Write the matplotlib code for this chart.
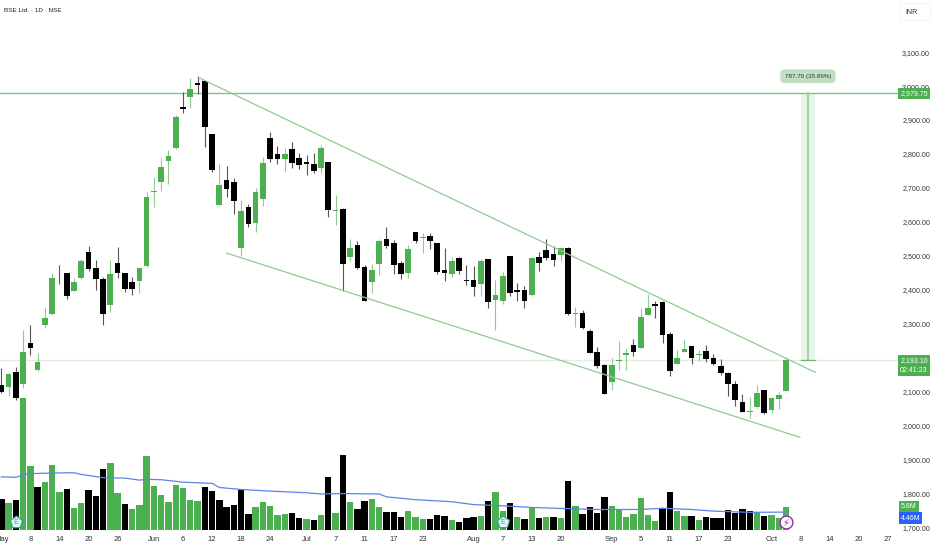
import matplotlib
matplotlib.use("Agg")
import numpy as np
import matplotlib.pyplot as plt

plt.rcParams['font.family'] = ['Liberation Sans', 'DejaVu Sans']

# Candles, one value per trading day
opens = [2119,2115,2157,2121,2242,2164,2296,2330,2450,2448,
         2397,2436,2510,2465,2433,2355,2478,2448,2423,2427,
         2471,2689,2717,2778,2818,2937,2968,3009,3014,2859,
         2651,2723,2717,2524,2645,2597,2668,2848,2799,2786,
         2815,2787,2776,2769,2758,2776,2633,2639,2496,2533,
         2466,2422,2476,2549,2539,2478,2448,2569,2552,2557,
         2537,2459,2447,2494,2428,2429,2418,2490,2369,2367,
         2498,2398,2398,2384,2497,2518,2504,2503,2523,2330,
         2333,2280,2217,2178,2127,2189,2209,2237,2227,2326,
         2357,2364,2270,2182,2217,2233,2208,2221,2198,2174,
         2156,2121,2068,2040,2054,2104,2046,2079,2103]
closes = [2100,2151,2081,2216,2229,2188,2316,2436,2448,2382,
          2424,2486,2461,2433,2330,2446,2448,2401,2402,2464,
          2672,2691,2762,2795,2908,2931,2992,3004,2880,2753,
          2710,2696,2662,2632,2593,2687,2774,2784,2786,2801,
          2774,2767,2771,2749,2819,2634,2635,2475,2523,2464,
          2368,2459,2545,2528,2473,2447,2520,2545,2554,2545,
          2452,2448,2486,2454,2425,2409,2486,2365,2386,2440,
          2391,2394,2368,2493,2479,2493,2489,2522,2330,2332,
          2286,2215,2175,2094,2178,2192,2213,2216,2319,2345,
          2351,2266,2162,2199,2225,2199,2210,2197,2180,2154,
          2121,2074,2041,2042,2095,2037,2080,2091,2193.1]
highs = [2169,2156,2173,2281,2296,2215,2348,2448,2473,2450,
         2436,2490,2529,2488,2439,2488,2525,2450,2437,2468,
         2689,2733,2787,2813,2915,2983,3023,3030,3016,2859,
         2770,2766,2728,2664,2654,2699,2792,2865,2823,2819,
         2836,2804,2797,2804,2826,2776,2679,2642,2549,2544,
         2473,2475,2551,2584,2546,2486,2532,2571,2566,2566,
         2539,2524,2497,2497,2473,2470,2492,2490,2429,2453,
         2500,2419,2411,2497,2512,2549,2530,2525,2525,2350,
         2340,2283,2230,2180,2198,2249,2227,2254,2345,2387,
         2366,2366,2276,2222,2254,2234,2224,2237,2211,2195,
         2158,2132,2093,2083,2119,2106,2083,2098,2201]
lows = [2095,2090,2075,2110,2208,2162,2288,2326,2417,2372,
        2397,2431,2456,2399,2296,2335,2434,2394,2384,2391,
        2468,2645,2692,2711,2816,2921,2936,2976,2821,2748,
        2649,2674,2622,2499,2584,2571,2648,2777,2771,2748,
        2760,2755,2738,2745,2743,2613,2591,2396,2486,2462,
        2366,2389,2443,2524,2446,2433,2434,2539,2509,2521,
        2446,2426,2438,2446,2414,2382,2381,2347,2281,2358,
        2381,2367,2347,2381,2456,2487,2471,2486,2325,2291,
        2284,2213,2171,2092,2105,2163,2165,2205,2225,2325,
        2316,2242,2146,2180,2216,2180,2191,2187,2178,2149,
        2086,2058,2039,2021,2051,2035,2038,2049,2102]

# Volume in millions, with the colour of each bar (g / k)
volumes = [7.6,6.6,7.5,32.4,15.8,10.5,11.8,16.1,9.3,10.0,
           5.4,6.8,9.8,8.3,15.0,16.4,9.2,6.5,5.1,6.1,
           18.3,10.9,8.7,6.9,11.0,10.4,7.4,7.1,10.5,9.6,
           7.5,5.8,6.1,10.0,4.1,5.8,7.0,5.9,3.8,3.9,
           4.2,2.9,2.8,2.5,3.8,13.0,4.3,18.4,6.9,5.2,
           7.2,7.7,5.8,4.5,4.5,3.3,4.8,3.3,2.8,2.7,
           3.7,3.5,2.6,2.0,2.9,3.2,3.5,7.1,9.4,4.7,
           6.7,3.3,2.7,5.6,2.9,3.3,3.3,2.9,12.1,6.0,
           4.0,5.6,4.3,8.2,6.0,5.1,3.3,4.0,8.0,3.8,
           2.3,5.4,9.4,4.7,3.5,3.5,2.5,3.2,2.9,2.9,
           5.0,4.2,5.2,4.7,4.5,3.6,3.8,3.0,5.8]
vol_colors = ("kgkggkgggk" "ggkkkggkgg" "ggggggggkk" "kkkkkggggg" "kkg"
              "kgkgkgkkgg" "kkkgggkkkg" "kkkgkggkgk" "gkgkgkgkkk" "k"
              "ggggggg" "kk" "gg" "k" "g" "kkkkkkk" "g" "k" "ggg")

# Volume moving average, read at some days
ma_days = [0,2,3,4,9,10,11,14,17,19,20,22,25,29,30,33,37,42,44,47,52,53,57,62,65,69,73,78,82,88,91,95,98,103,108]
ma_vals = [13.1,13.0,13.6,13.9,14.1,14.1,13.7,12.9,12.8,12.3,12.5,12.4,11.8,11.5,10.5,10.0,9.6,9.2,8.9,9.0,
           8.9,8.2,7.5,7.0,6.3,6.0,5.6,5.3,5.1,5.1,5.4,5.1,4.7,4.4,4.46]

# Axis labels
price_ticks = [3100,3000,2900,2800,2700,2600,2500,2400,2300,2200,2100,2000,1900,1800,1700]
date_pos = [0,4,8,12,16,21,25,29,33,37,42,46,50,54,58,65,69,73,77,84,88,92,96,100,106,110,114,118,122]
date_labels = ['May','8','14','20','26','Jun','6','12','18','24','Jul','7','11','17','23',
               'Aug','7','13','20','Sep','5','11','17','23','Oct','8','14','20','27']

# Drawings
resistance = ([27.1, 112], [3025.7, 2156.9])
support = ([31, 109.9], [2508, 1965.5])
target_price = 2979.75
last_price = 2193.1

GREEN = '#4caf50'
W, H = 932, 550

fig = plt.figure(figsize=(W / 100, H / 100), dpi=100)
ax = fig.add_axes([0, 1 - 532 / H, 898 / W, 532 / H])
ax_vol = ax.twinx()
ax.set_zorder(2)
ax.patch.set_visible(False)

days = np.arange(len(opens))
ax.set_xlim(-0.18, 123.4)
ax.set_ylim(1686.5, 3253.5)
ax_vol.set_ylim(-0.42, 130)
ax_vol.set_yticks([])

# volume
bar_cols = [GREEN if c == 'g' else 'black' for c in vol_colors]
ax_vol.bar(days, volumes, width=0.88, color=bar_cols, linewidth=0)
ax_vol.plot(ma_days, ma_vals, color='#5b86e5', lw=0.9)

# measure band
ax.fill_between([110, 112], last_price, target_price, color='#e8f5e9', lw=0, zorder=1)
ax.plot([111, 111], [last_price, target_price], color='#a9d3ac', lw=1.5, zorder=1.5)
ax.plot([110, 112], [last_price, last_price], color='#6dbb71', lw=0.9, zorder=1.5)

# horizontal lines
ax.axhline(last_price, color='#e3ebe3', lw=1, zorder=1.2)
ax.axhline(target_price, color='#7cc480', lw=1, zorder=1.2)

# candles
for i in days:
    up = closes[i] >= opens[i]
    ax.vlines(i, lows[i], highs[i], color='#8fcb92' if up else '#555555', lw=0.8, zorder=2)
    bottom = min(opens[i], closes[i])
    height = max(abs(closes[i] - opens[i]), 2)
    ax.bar(i, height, bottom=bottom, width=0.78, color=GREEN if up else 'black', linewidth=0, zorder=3)

# channel
ax.plot(resistance[0], resistance[1], color='#8fcb92', lw=0.9, zorder=4)
ax.plot(support[0], support[1], color='#8fcb92', lw=0.9, zorder=4)

ax.text(111, 3029, '787.70 (35.89%)', ha='center', va='center', fontsize=4.5, color='#333333', zorder=5,
        bbox=dict(boxstyle='round,pad=0.7', fc='#c2dfc4', ec='none'))

# markers sitting on the volume bars
for d in [2, 69]:
    ax_vol.scatter(d, 2.0, marker='p', s=85, fc='#e6f7f6', ec='#26a69a', lw=0.9, zorder=6)
    ax_vol.text(d, 1.9, 'E', ha='center', va='center', fontsize=5, color='#26a69a', zorder=7)
ax_vol.scatter(108, 2.0, marker='o', s=85, fc='white', ec='#9c27b0', lw=1, zorder=6)
ax_vol.text(108, 1.9, '\u26a1', ha='center', va='center', fontsize=7, color='#9c27b0',
            family='DejaVu Sans', zorder=7)

# axes look
for s in ax.spines.values():
    s.set_visible(False)
for s in ax_vol.spines.values():
    s.set_visible(False)
ax.yaxis.tick_right()
ax.set_yticks(price_ticks)
ax.set_yticklabels([f'{p:,.2f}' for p in price_ticks])
ax.set_xticks(date_pos)
ax.set_xticklabels(date_labels)
ax.tick_params(axis='y', length=0, pad=3, labelsize=5.1, labelcolor='#333333')
ax.tick_params(axis='x', length=0, pad=3, labelsize=5.5, labelcolor='#333333')


def label_box(x0, y0, x1, y1, color, lines):
    fig.patches.append(plt.Rectangle((x0 / W, 1 - y1 / H), (x1 - x0) / W, (y1 - y0) / H, fc=color, ec='none',
                                     transform=fig.transFigure, zorder=10))
    for text, y in lines:
        fig.text((x0 + x1) / 2 / W, 1 - y / H, text, ha='center', va='center', fontsize=5,
                 color='white', zorder=11)


label_box(898, 88, 930, 99, GREEN, [('2,979.75', 93.5)])
label_box(898, 355, 930, 376, GREEN, [('2,193.10', 360.5), ('02:41:23', 370.5)])
label_box(899, 501, 919, 512, GREEN, [('5.8M', 506.5)])
label_box(899, 512, 922, 524, '#2962ff', [('4.46M', 518)])

fig.text(4 / W, 1 - 11 / H, 'BSE Ltd. \u00b7 1D \u00b7 NSE', ha='left', va='center', fontsize=4.6, color='#222222')
fig.patches.append(plt.Rectangle((900 / W, 1 - 20 / H), 30 / W, 17 / H, fc='white', ec='#f2f2f2', lw=0.6,
                                 transform=fig.transFigure))
fig.text(905 / W, 1 - 12 / H, 'INR', ha='left', va='center', fontsize=5, color='#333333')

fig.savefig('out.png', dpi=100)
